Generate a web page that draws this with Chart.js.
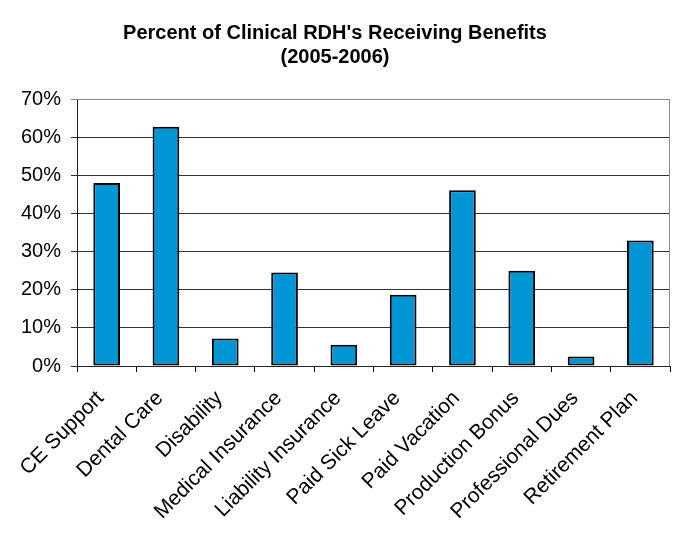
<!DOCTYPE html>
<html>
<head>
<meta charset="utf-8">
<script src="https://cdn.jsdelivr.net/npm/chart.js@4.4.0/dist/chart.umd.min.js"></script>
<style>
  html, body { margin: 0; padding: 0; background: #fff; }
  #wrap { width: 677px; height: 550px; }
</style>
</head>
<body>
<div id="wrap"><canvas id="benefits-chart" width="677" height="550"></canvas></div>
<script>
const benefits = ["CE Support", "Dental Care", "Disability", "Medical Insurance", "Liability Insurance",
  "Paid Sick Leave", "Paid Vacation", "Production Bonus", "Professional Dues", "Retirement Plan"];
const percents = [48.0, 62.7, 7.2, 24.5, 5.6, 18.7, 46.1, 25.0, 2.5, 32.9];
const yTicks = [0, 10, 20, 30, 40, 50, 60, 70];

// grey frame on top/right of the plot like the original
const frame = {
  id: 'frame',
  afterDraw(chart) {
    const a = chart.chartArea, c = chart.ctx;
    c.save();
    c.strokeStyle = '#8a8a8a';
    c.lineWidth = 1;
    c.beginPath();
    c.moveTo(a.left, a.top + 0.5);
    c.lineTo(a.right - 0.5, a.top + 0.5);
    c.lineTo(a.right - 0.5, a.bottom);
    c.stroke();
    c.restore();
  }
};

new Chart(document.getElementById("benefits-chart"), {
  type: 'bar',
  data: {
    labels: benefits,
    datasets: [
      {
        label: "Receiving Benefits",
        backgroundColor: "#0096D6",
        borderColor: "#000000",
        borderWidth: 2,
        borderSkipped: false,
        categoryPercentage: 1.0,
        barPercentage: 0.45,
        data: percents
      }
    ]
  },
  options: {
    responsive: false,
    animation: false,
    layout: { padding: { left: 0, right: 7, top: 0, bottom: 0 } },
    plugins: {
      legend: { display: false },
      tooltip: { enabled: false },
      title: {
        display: true,
        text: ["Percent of Clinical RDH's Receiving Benefits", "(2005-2006)"],
        color: '#000',
        font: { family: 'Liberation Sans, Arial, sans-serif', size: 20, weight: 'bold', lineHeight: 1.2 },
        padding: { top: 21, bottom: 30 }
      }
    },
    scales: {
      x: {
        grid: { drawOnChartArea: false, drawTicks: true, tickLength: 6, color: '#000', offset: true },
        border: { color: '#222', width: 1 },
        ticks: {
          color: '#000',
          minRotation: 45,
          maxRotation: 45,
          autoSkip: false,
          padding: 14,
          labelOffset: -6,
          font: { family: 'Liberation Sans, Arial, sans-serif', size: 21 }
        },
        afterFit(scale) { scale.height = 184; }
      },
      y: {
        min: 0,
        max: 70,
        afterBuildTicks(scale) { scale.ticks = yTicks.map(v => ({ value: v })); },
        grid: {
          color: ctx => (ctx.tick && ctx.tick.value === 70) ? '#8a8a8a' : '#333',
          tickLength: 6
        },
        border: { color: '#222', width: 1 },
        ticks: {
          color: '#000',
          padding: 10,
          font: { family: 'Liberation Sans, Arial, sans-serif', size: 20 },
          callback: v => v + '%'
        },
        afterFit(scale) { scale.width = 77; }
      }
    }
  },
  plugins: [frame]
});
</script>
</body>
</html>
